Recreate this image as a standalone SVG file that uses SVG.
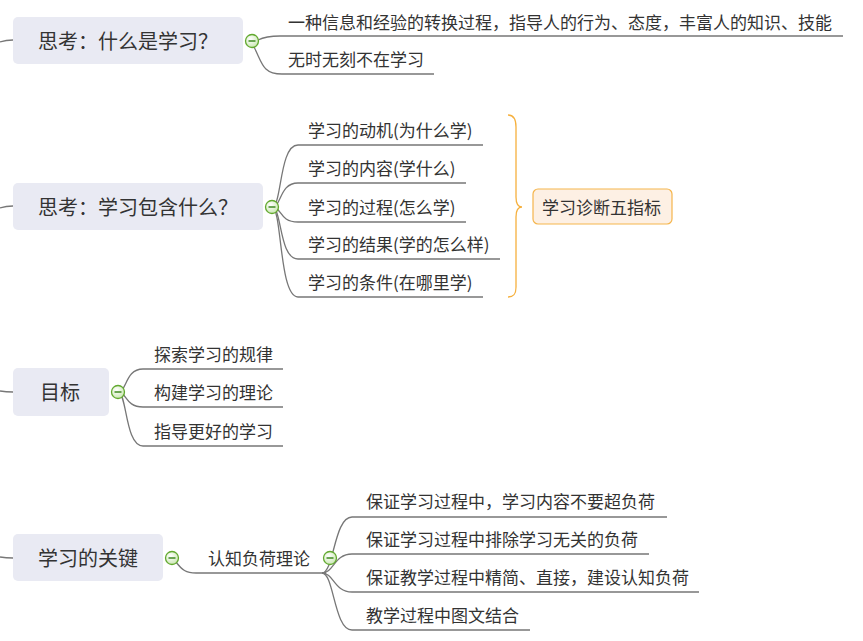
<svg xmlns="http://www.w3.org/2000/svg" width="863" height="641" viewBox="0 0 863 641">
<defs>
<radialGradient id="cg" cx="0.4" cy="0.35" r="0.7">
<stop offset="0" stop-color="#ffffff"/>
<stop offset="1" stop-color="#c9e6b0"/>
</radialGradient>
<style>
.t{font-family:"Noto Sans CJK SC","Noto Sans",sans-serif;fill:#333333}
.m{font-size:20px}
.s{font-size:17px}
.box{fill:#e9eaf3}
.ln{fill:none;stroke:#777777;stroke-width:1.3}
.br{fill:none;stroke:#f6b03d;stroke-width:1.3}
.cc{fill:url(#cg);stroke:#62a92f;stroke-width:1.3}
.mi{stroke:#3e8a20;stroke-width:1.5}
</style>
</defs>
<rect width="863" height="641" fill="#ffffff"/>
<g id="connectors">
<path class="ln" d="M0 42 Q6 40 13 40"/>
<path class="ln" d="M0 208 Q6 206 13 206"/>
<path class="ln" d="M0 391 Q6 392 13 392"/>
<path class="ln" d="M0 557 Q6 558 13 558"/>
<path class="ln" d="M258 40 Q266 36 280 36 H843"/>
<path class="ln" d="M254 47 C262 62 262 74 282 74 H434"/>
<path class="ln" d="M272 207 C282 207 279 145 298 145 H483"/>
<path class="ln" d="M272 207 C282 207 279 183 298 183 H466"/>
<path class="ln" d="M272 207 C282 207 279 222 298 222 H466"/>
<path class="ln" d="M272 207 C282 207 279 259 298 259 H500"/>
<path class="ln" d="M272 207 C282 207 279 297 298 297 H483"/>
<path class="ln" d="M118 392 C127 392 125 369 143 369 H283"/>
<path class="ln" d="M118 392 C127 392 125 407 143 407 H283"/>
<path class="ln" d="M118 392 C127 392 125 446 143 446 H283"/>
<path class="ln" d="M176 562 C182 570 186 573 196 573 H322"/>
<path class="ln" d="M322 573 C334 573 334 517 352 517 H667"/>
<path class="ln" d="M322 573 C334 573 334 554 352 554 H649"/>
<path class="ln" d="M322 573 C334 573 334 592 352 592 H699"/>
<path class="ln" d="M322 573 C334 573 334 630 352 630 H530"/>
<path class="br" d="M508 115 C514 115 516 119 516 127 L516 197 C516 203 518 207 522 207 C518 207 516 211 516 217 L516 287 C516 294 514 297 508 297"/>
</g>
<g id="n1">
<rect class="box" x="13" y="17" width="230" height="47" rx="5"/>
<text class="t m" x="38" y="48.5">思考：什么是学习？</text>
<circle class="cc" cx="252" cy="41" r="6.5"/><line class="mi" x1="248.5" y1="41" x2="255.5" y2="41"/>
</g>
<g id="n1a"><text class="t s" x="288" y="29">一种信息和经验的转换过程，指导人的行为、态度，丰富人的知识、技能</text></g>
<g id="n1b"><text class="t s" x="288" y="66">无时无刻不在学习</text></g>
<g id="n2">
<rect class="box" x="13" y="183" width="250" height="47" rx="5"/>
<text class="t m" x="38" y="214.5">思考：学习包含什么？</text>
<circle class="cc" cx="272" cy="207" r="6.5"/><line class="mi" x1="268.5" y1="207" x2="275.5" y2="207"/>
</g>
<g id="n2a"><text class="t s" x="308" y="137">学习的动机(为什么学)</text></g>
<g id="n2b"><text class="t s" x="308" y="175">学习的内容(学什么)</text></g>
<g id="n2c"><text class="t s" x="308" y="214">学习的过程(怎么学)</text></g>
<g id="n2d"><text class="t s" x="308" y="251">学习的结果(学的怎么样)</text></g>
<g id="n2e"><text class="t s" x="308" y="289">学习的条件(在哪里学)</text></g>
<g id="summary">
<rect x="533" y="189" width="139" height="35" rx="5" fill="#fdf0e4" stroke="#f5b54c" stroke-width="1.2"/>
<text class="t s" x="542" y="214">学习诊断五指标</text>
</g>
<g id="n3">
<rect class="box" x="13" y="368" width="96" height="48" rx="5"/>
<text class="t m" x="40" y="399.5">目标</text>
<circle class="cc" cx="118" cy="392" r="6.5"/><line class="mi" x1="114.5" y1="392" x2="121.5" y2="392"/>
</g>
<g id="n3a"><text class="t s" x="154" y="361">探索学习的规律</text></g>
<g id="n3b"><text class="t s" x="154" y="399">构建学习的理论</text></g>
<g id="n3c"><text class="t s" x="154" y="438">指导更好的学习</text></g>
<g id="n4">
<rect class="box" x="13" y="534" width="150" height="47" rx="5"/>
<text class="t m" x="38" y="565.5">学习的关键</text>
<circle class="cc" cx="172" cy="558" r="6.5"/><line class="mi" x1="168.5" y1="558" x2="175.5" y2="558"/>
</g>
<g id="n4a">
<text class="t s" x="208" y="565">认知负荷理论</text>
<circle class="cc" cx="330" cy="558" r="6.5"/><line class="mi" x1="326.5" y1="558" x2="333.5" y2="558"/>
</g>
<g id="n4a1"><text class="t s" x="366" y="508">保证学习过程中，学习内容不要超负荷</text></g>
<g id="n4a2"><text class="t s" x="366" y="546">保证学习过程中排除学习无关的负荷</text></g>
<g id="n4a3"><text class="t s" x="366" y="584">保证教学过程中精简、直接，建设认知负荷</text></g>
<g id="n4a4"><text class="t s" x="366" y="622">教学过程中图文结合</text></g>
</svg>
